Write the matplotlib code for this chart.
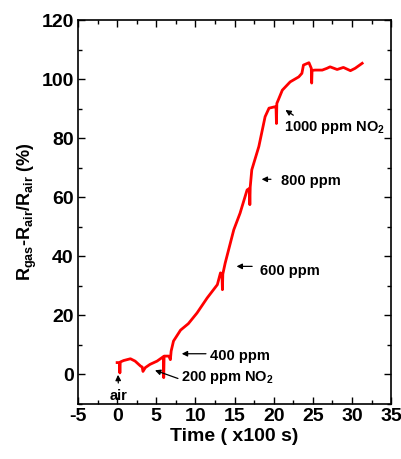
import matplotlib
matplotlib.use("Agg")
import matplotlib.pyplot as plt
from matplotlib.ticker import MultipleLocator

plt.rcParams['font.family'] = ['Liberation Sans', 'DejaVu Sans']
plt.rcParams['font.weight'] = 'bold'
plt.rcParams['axes.unicode_minus'] = False
plt.rcParams['mathtext.fontset'] = 'custom'
plt.rcParams['mathtext.rm'] = 'Liberation Sans:bold'
plt.rcParams['mathtext.bf'] = 'Liberation Sans:bold'
plt.rcParams['mathtext.default'] = 'rm'

time = [0.0, 0.3, 0.35, 0.4, 0.83, 1.7, 2.3, 3.0, 3.2, 3.3, 3.6, 4.2, 5.1, 5.9, 5.95, 6.0, 6.6, 6.8,
        6.9, 7.2, 8.1, 9.1, 10.2, 11.5, 12.8, 13.2, 13.4, 13.45, 13.5, 13.8, 14.9, 15.7, 16.6, 16.9, 16.95,
        17.0, 17.2, 18.1, 18.9, 19.4, 20.2, 20.3, 20.35, 20.4, 21.1, 22.1, 23.2, 23.6, 23.8, 24.5, 24.8,
        24.85, 24.9, 25.3, 26.2, 26.8, 27.2, 28.1, 28.9, 29.8, 30.4, 31.3]
response = [4.0, 4.0, 0.5, 4.2, 4.7, 5.3, 4.5, 2.8, 2.5, 1.0, 2.3, 3.4, 4.5, 6.0, -1.1, 6.2, 6.2, 5.0,
            7.9, 11.3, 15.0, 17.2, 20.8, 25.9, 30.4, 34.4, 33.0, 28.7, 34.0, 37.7, 49.0, 54.6, 62.5, 63.0, 57.5,
            63.5, 69.3, 77.2, 87.3, 90.2, 90.7, 90.0, 85.0, 91.8, 96.3, 99.1, 100.8, 102.0, 104.8, 105.6, 103.7,
            98.7, 103.0, 103.1, 103.1, 103.7, 104.2, 103.3, 104.0, 102.9, 103.7, 105.4]

fig = plt.figure(figsize=(4.02, 4.59), dpi=100)
ax = fig.add_axes([0.194, 0.120, 0.779, 0.836])
ax.plot(time, response, color='#ff0000', lw=2.0)

ax.set_xlim(-5, 35)
ax.set_ylim(-10, 120)
ax.xaxis.set_major_locator(MultipleLocator(5))
ax.xaxis.set_minor_locator(MultipleLocator(2.5))
ax.yaxis.set_major_locator(MultipleLocator(20))
ax.yaxis.set_minor_locator(MultipleLocator(10))
ax.tick_params(which='both', direction='in', top=True, right=True, width=1.0)
ax.tick_params(which='major', length=5, labelsize=14, pad=3)
ax.tick_params(which='minor', length=3)
for s in ax.spines.values():
    s.set_linewidth(1.2)
for lab in ax.get_xticklabels() + ax.get_yticklabels():
    lab.set_fontweight('bold')

ax.set_xlabel('Time ( x100 s)', fontsize=14, fontweight='bold', labelpad=2)
ax.set_ylabel(r'R$_{gas}$-R$_{air}$/R$_{air}$ (%)', fontsize=13, fontweight='bold', labelpad=2)

ap = dict(arrowstyle='-|>', color='black', lw=0.9, mutation_scale=8)
fs = 10.5
ax.annotate('air', xy=(0.1, 0.8), xytext=(0.2, -4.8), ha='center', va='top', fontsize=fs,
            fontweight='bold', arrowprops=ap)
ax.annotate('', xy=(4.5, 1.7), xytext=(8.1, -1.7), arrowprops=ap)
ax.text(8.2, -1.0, r'200 ppm NO$_2$', fontsize=fs, fontweight='bold', ha='left', va='center')
ax.annotate('', xy=(7.9, 7.0), xytext=(11.7, 7.0), arrowprops=ap)
ax.text(11.8, 6.3, '400 ppm', fontsize=fs, fontweight='bold', ha='left', va='center')
ax.annotate('', xy=(14.9, 36.6), xytext=(17.6, 36.6), arrowprops=ap)
ax.text(18.3, 34.9, '600 ppm', fontsize=fs, fontweight='bold', ha='left', va='center')
ax.annotate('', xy=(18.1, 66.1), xytext=(20.0, 66.1), arrowprops=ap)
ax.text(20.9, 65.6, '800 ppm', fontsize=fs, fontweight='bold', ha='left', va='center')
ax.annotate('', xy=(21.2, 90.1), xytext=(22.8, 87.3), arrowprops=ap)
ax.text(21.3, 83.5, r'1000 ppm NO$_2$', fontsize=fs, fontweight='bold', ha='left', va='center')

fig.savefig('out.png', dpi=100)
